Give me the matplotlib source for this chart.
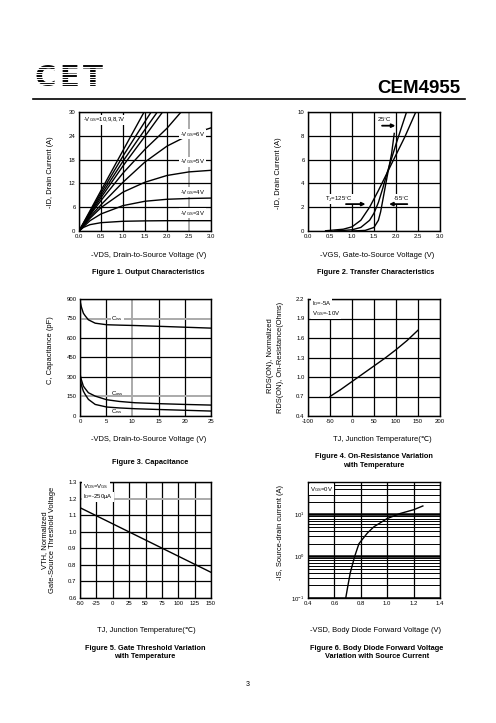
import numpy as np
import matplotlib
matplotlib.use("Agg")
import matplotlib.pyplot as plt
from matplotlib.ticker import FormatStrFormatter, LogLocator, NullFormatter

plt.rcParams['font.family'] = ['Liberation Sans', 'DejaVu Sans']
plt.rcParams['mathtext.fontset'] = 'custom'
plt.rcParams['mathtext.rm'] = 'Liberation Sans'
plt.rcParams['mathtext.it'] = 'Liberation Sans'
plt.rcParams['axes.unicode_minus'] = False

# ---- Figure 1: output characteristics (-VDS in V, -ID in A) ----
vds_10 = [0, 0.5, 1.0, 1.48]
id_10 = [0, 10.2, 20.3, 30]
vds_9 = [0, 0.5, 1.0, 1.5, 1.64]
id_9 = [0, 9.6, 18.9, 27.6, 30]
vds_8 = [0, 0.5, 1.0, 1.5, 1.78]
id_8 = [0, 9.0, 17.6, 25.6, 30]
vds_7 = [0, 0.5, 1.0, 1.5, 1.90]
id_7 = [0, 8.4, 16.4, 23.9, 30]
vds_x = [0, 0.25, 0.5, 1.0, 1.5, 2.0, 2.32]
id_x = [0, 4.0, 7.7, 14.6, 20.6, 25.9, 30]
vds_sat = [0, 0.25, 0.5, 1.0, 1.5, 2.0, 2.5, 3.0]
id_6 = [0, 3.6, 6.6, 12.3, 17.4, 21.4, 24.2, 26.0]
id_5 = [0, 3.2, 5.9, 9.8, 12.3, 14.0, 14.9, 15.3]
id_4 = [0, 2.6, 4.3, 6.4, 7.5, 8.0, 8.2, 8.3]
vds_3 = [0, 0.1, 0.25, 0.5, 1.0, 1.5, 2.0, 3.0]
id_3 = [0, 0.9, 1.6, 2.1, 2.45, 2.55, 2.6, 2.6]

# ---- Figure 2: transfer characteristics (-VGS in V, -ID in A) ----
vgs_125 = [0.4, 0.8, 1.0, 1.2, 1.4, 1.6, 1.8, 2.0, 2.2, 2.45]
id_125 = [0.02, 0.15, 0.35, 0.9, 2.0, 3.4, 4.9, 6.4, 7.9, 10]
vgs_25 = [0.6, 1.0, 1.2, 1.4, 1.5, 1.6, 1.7, 1.8, 2.0, 2.24]
id_25 = [0.0, 0.1, 0.3, 0.9, 1.5, 2.4, 3.6, 4.9, 7.3, 10]
vgs_m55 = [1.0, 1.3, 1.5, 1.6, 1.65, 1.7, 1.75, 1.8, 1.9, 1.96]
id_m55 = [0.0, 0.05, 0.3, 0.9, 1.6, 2.6, 3.6, 4.6, 6.5, 8.2]

# ---- Figure 3: capacitance (-VDS in V, C in pF) ----
vds_c = [0, 0.25, 0.64, 1.0, 1.6, 2.9, 5.1, 7.5, 10.5, 15, 20, 25]
ciss = [885, 840, 791, 770, 740, 714, 702, 699, 696, 690, 683, 676]
coss = [324, 280, 230, 210, 179, 153, 125, 112, 102, 95, 89, 84]
crss = [293, 240, 191, 165, 128, 89, 69, 62, 56, 50, 44, 38]

# ---- Figure 4: normalized RDS(ON) vs TJ ----
tj_r = [-50, -25, 0, 25, 50, 75, 100, 125, 150]
rds_n = [0.70, 0.81, 0.93, 1.05, 1.17, 1.29, 1.42, 1.56, 1.72]

# ---- Figure 5: normalized VTH vs TJ ----
tj_v = [-50, 150]
vth_n = [1.145, 0.755]

# ---- Figure 6: body diode (-VSD in V, -IS in A) ----
vsd = [0.686, 0.70, 0.72, 0.754, 0.786, 0.85, 0.9, 1.0, 1.1, 1.2, 1.27]
i_s = [0.1, 0.18, 0.4, 1.0, 2.0, 3.6, 5.1, 8.0, 10.6, 13.0, 16.0]

W, H = 496, 723
fig = plt.figure(figsize=(W / 100, H / 100), dpi=100)

TICK_FS = 4.3
LAB_FS = 5.4
CAP_FS = 5.3
LW = 1.0


def px_axes(l, t, r, b):
    return fig.add_axes([l / W, 1 - b / H, (r - l) / W, (b - t) / H])


def ftext(x, y, s, **kw):
    return fig.text(x / W, 1 - y / H, s, **kw)


def style(ax, xt, yt, xfmt=None, yfmt=None, grey_x=(), grey_y=()):
    ax.set_xticks(xt)
    ax.set_yticks(yt)
    if xfmt:
        ax.xaxis.set_major_formatter(FormatStrFormatter(xfmt))
    if yfmt:
        ax.yaxis.set_major_formatter(FormatStrFormatter(yfmt))
    ax.set_xlim(xt[0], xt[-1])
    ax.set_ylim(yt[0], yt[-1])
    ax.tick_params(length=0, pad=2.5, labelsize=TICK_FS)
    ax.grid(True, color="black", lw=0.9)
    for i, g in enumerate(ax.get_xgridlines()):
        if i in grey_x:
            g.set_color("#aaaaaa")
            g.set_linewidth(1.4)
    for i, g in enumerate(ax.get_ygridlines()):
        if i in grey_y:
            g.set_color("#aaaaaa")
            g.set_linewidth(1.4)
    for s in ax.spines.values():
        s.set_linewidth(1.0)


box = dict(facecolor="white", edgecolor="none", pad=0.6)

# ---------------- header ----------------
ftext(460, 93, "CEM4955", fontsize=13.5, fontweight="bold", ha="right", va="baseline")
fig.add_artist(plt.Line2D([33 / W, 465 / W], [1 - 99 / H, 1 - 99 / H], color="black", lw=1.2))
# striped "CET" logo: bold letters cut by thin white bands
for lx, ch in [(35, "C"), (59, "E"), (83, "T")]:
    ftext(lx, 86, ch, fontsize=21, fontweight="bold", ha="left", va="baseline",
          family="DejaVu Sans", zorder=5)
for yy in np.arange(64.2, 87, 2.5):
    fig.add_artist(plt.Line2D([33 / W, 112 / W], [1 - yy / H, 1 - yy / H],
                              color="white", lw=0.8, zorder=10))

# ---------------- Figure 1 ----------------
ax1 = px_axes(79, 112, 211, 231)
for x, y in [(vds_10, id_10), (vds_9, id_9), (vds_8, id_8), (vds_7, id_7), (vds_x, id_x),
             (vds_sat, id_6), (vds_sat, id_5), (vds_sat, id_4), (vds_3, id_3)]:
    ax1.plot(x, y, color="black", lw=LW)
style(ax1, [0, 0.5, 1.0, 1.5, 2.0, 2.5, 3.0], [0, 6, 12, 18, 24, 30], xfmt="%.1f", grey_x=(5,))
ax1.text(0.1, 28.0, r"-V$_{GS}$=10,9,8,7V", fontsize=4.3, va="center", bbox=box)
for yv, lab in [(24.4, "6V"), (17.4, "5V"), (9.8, "4V"), (4.5, "3V")]:
    ax1.text(2.3, yv, r"-V$_{GS}$=" + lab, fontsize=4.3, va="center", bbox=box)
ftext(51, 172, "-ID, Drain Current (A)", fontsize=LAB_FS, rotation=90, ha="center", va="center")
ftext(149, 255, "-VDS, Drain-to-Source Voltage (V)", fontsize=LAB_FS, ha="center", va="center")
ftext(148, 272, "Figure 1. Output Characteristics", fontsize=CAP_FS, fontweight="bold",
      ha="center", va="center")

# ---------------- Figure 2 ----------------
ax2 = px_axes(308, 112, 440, 231)
ax2.plot(vgs_125, id_125, color="black", lw=LW)
ax2.plot(vgs_25, id_25, color="black", lw=LW)
ax2.plot(vgs_m55, id_m55, color="black", lw=LW)
style(ax2, [0, 0.5, 1.0, 1.5, 2.0, 2.5, 3.0], [0, 2, 4, 6, 8, 10], xfmt="%.1f")
arrow = dict(arrowstyle="-|>", color="black", lw=1.3, mutation_scale=5)
ax2.text(1.57, 9.33, "25$^{\\circ}$C", fontsize=4.3, va="center", bbox=box)
ax2.annotate("", xy=(2.05, 8.85), xytext=(1.62, 8.85), arrowprops=arrow)
ax2.text(0.39, 2.68, "T$_{J}$=125$^{\\circ}$C", fontsize=4.3, va="center", bbox=box)
ax2.annotate("", xy=(1.37, 2.26), xytext=(0.80, 2.26), arrowprops=arrow)
ax2.text(1.93, 2.68, "-55$^{\\circ}$C", fontsize=4.3, va="center", bbox=box)
ax2.annotate("", xy=(1.78, 2.26), xytext=(2.32, 2.26), arrowprops=arrow)
ftext(279, 173, "-ID, Drain Current (A)", fontsize=LAB_FS, rotation=90, ha="center", va="center")
ftext(377, 255, "-VGS, Gate-to-Source Voltage (V)", fontsize=LAB_FS, ha="center", va="center")
ftext(376, 272, "Figure 2. Transfer Characteristics", fontsize=CAP_FS, fontweight="bold",
      ha="center", va="center")

# ---------------- Figure 3 ----------------
ax3 = px_axes(80, 299, 211, 416)
ax3.plot(vds_c, ciss, color="black", lw=LW)
ax3.plot(vds_c, coss, color="black", lw=LW)
ax3.plot(vds_c, crss, color="black", lw=LW)
style(ax3, [0, 5, 10, 15, 20, 25], [0, 150, 300, 450, 600, 750, 900], grey_x=(2,), grey_y=(1, 5))
ax3.text(6.0, 752, "C$_{iss}$", fontsize=4.3, va="center", bbox=box)
ax3.text(6.0, 171, "C$_{oss}$", fontsize=4.3, va="center")
ax3.text(6.0, 34, "C$_{rss}$", fontsize=4.3, va="center")
ftext(51, 350, "C, Capacitance (pF)", fontsize=LAB_FS, rotation=90, ha="center", va="center")
ftext(149, 440, "-VDS, Drain-to-Source Voltage (V)", fontsize=LAB_FS, ha="center", va="center")
ftext(150, 463, "Figure 3. Capacitance", fontsize=CAP_FS, fontweight="bold", ha="center", va="center")

# ---------------- Figure 4 ----------------
ax4 = px_axes(308, 299, 440, 416)
ax4.plot(tj_r, rds_n, color="black", lw=LW)
style(ax4, [-100, -50, 0, 50, 100, 150, 200], [0.4, 0.7, 1.0, 1.3, 1.6, 1.9, 2.2], yfmt="%.1f")
ax4.text(-92, 2.13, "I$_{D}$=-5A", fontsize=4.3, va="center", bbox=box)
ax4.text(-92, 1.98, "V$_{GS}$=-10V", fontsize=4.3, va="center", bbox=box)
ftext(270, 356, "RDS(ON), Normalized", fontsize=LAB_FS, rotation=90, ha="center", va="center")
ftext(280, 357, "RDS(ON), On-Resistance(Ohms)", fontsize=LAB_FS, rotation=90,
      ha="center", va="center")
ftext(382, 440, "TJ, Junction Temperature(\u2103)", fontsize=LAB_FS, ha="center", va="center")
ftext(374, 456, "Figure 4. On-Resistance Variation", fontsize=CAP_FS, fontweight="bold",
      ha="center", va="center")
ftext(374, 465, "with Temperature", fontsize=CAP_FS, fontweight="bold", ha="center", va="center")

# ---------------- Figure 5 ----------------
ax5 = px_axes(80, 482, 211, 598)
ax5.plot(tj_v, vth_n, color="black", lw=LW)
style(ax5, [-50, -25, 0, 25, 50, 75, 100, 125, 150], [0.6, 0.7, 0.8, 0.9, 1.0, 1.1, 1.2, 1.3],
      yfmt="%.1f", grey_y=(6,))
ax5.text(-45, 1.274, "V$_{DS}$=V$_{GS}$", fontsize=4.3, va="center", bbox=box)
ax5.text(-45, 1.21, "I$_{D}$=-250\u03bcA", fontsize=4.3, va="center", bbox=box)
ftext(45, 540, "VTH, Normalized", fontsize=LAB_FS, rotation=90, ha="center", va="center")
ftext(53, 540, "Gate-Source Threshold Voltage", fontsize=LAB_FS, rotation=90, ha="center", va="center")
ftext(146, 630, "TJ, Junction Temperature(\u2103)", fontsize=LAB_FS, ha="center", va="center")
ftext(145, 648, "Figure 5. Gate Threshold Variation", fontsize=CAP_FS, fontweight="bold",
      ha="center", va="center")
ftext(145, 657, "with Temperature", fontsize=CAP_FS, fontweight="bold", ha="center", va="center")

# ---------------- Figure 6 ----------------
ax6 = px_axes(308, 482, 440, 598)
ax6.plot(vsd, i_s, color="black", lw=LW)
ax6.set_yscale("log")
ax6.set_xlim(0.4, 1.4)
ax6.set_ylim(0.1, 60)
ax6.set_xticks([0.4, 0.6, 0.8, 1.0, 1.2, 1.4])
ax6.xaxis.set_major_formatter(FormatStrFormatter("%.1f"))
ax6.yaxis.set_major_locator(LogLocator(base=10))
ax6.yaxis.set_minor_locator(LogLocator(base=10, subs=np.arange(2, 10)))
ax6.yaxis.set_minor_formatter(NullFormatter())
ax6.tick_params(which="both", length=0, pad=2.5, labelsize=TICK_FS)
ax6.grid(True, which="major", color="black", lw=1.8)
ax6.grid(True, which="minor", axis="y", color="black", lw=0.7)
ax6.grid(True, which="major", axis="x", color="black", lw=0.9)
for s in ax6.spines.values():
    s.set_linewidth(1.0)
ax6.text(0.415, 40, "V$_{GS}$=0V", fontsize=4.3, va="center", bbox=box)
ftext(281, 533, "-IS, Source-drain current (A)", fontsize=LAB_FS, rotation=90, ha="center", va="center")
ftext(376, 630, "-VSD, Body Diode Forward Voltage (V)", fontsize=LAB_FS, ha="center", va="center")
ftext(377, 648, "Figure 6. Body Diode Forward Voltage", fontsize=CAP_FS, fontweight="bold",
      ha="center", va="center")
ftext(377, 657, "Variation with Source Current", fontsize=CAP_FS, fontweight="bold",
      ha="center", va="center")

ftext(248, 684, "3", fontsize=5, ha="center", va="center")

fig.savefig("out.png", dpi=100)
